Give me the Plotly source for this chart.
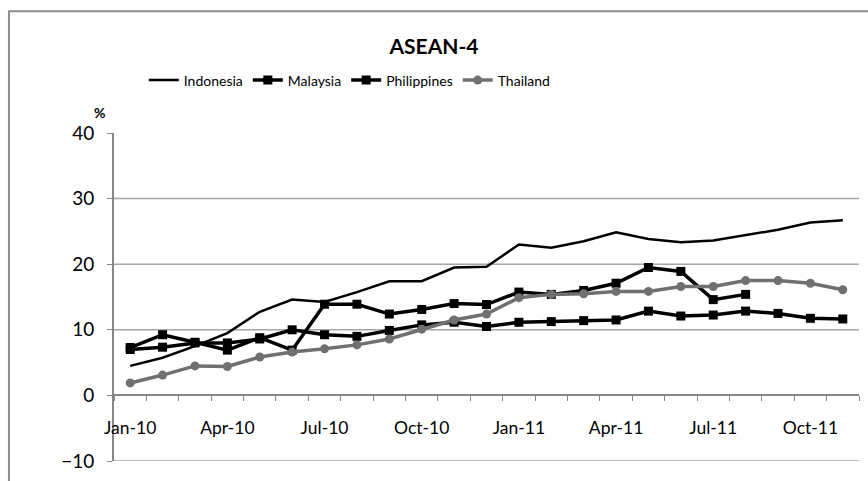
import plotly.graph_objects as go

# Monthly series, Jan-10 to Nov-11 (%)
months = ["Jan-10", "Feb-10", "Mar-10", "Apr-10", "May-10", "Jun-10", "Jul-10",
          "Aug-10", "Sep-10", "Oct-10", "Nov-10", "Dec-10", "Jan-11", "Feb-11",
          "Mar-11", "Apr-11", "May-11", "Jun-11", "Jul-11", "Aug-11", "Sep-11",
          "Oct-11", "Nov-11"]

indonesia = [4.5, 5.75, 7.5, 9.5, 12.75, 14.6, 14.25, 15.75, 17.4, 17.4, 19.5, 19.6,
             23.0, 22.5, 23.5, 24.85, 23.85, 23.35, 23.6, 24.4, 25.25, 26.35, 26.7]

malaysia = [7.0, 7.35, 8.0, 8.0, 8.6, 10.0, 9.25, 9.0, 9.9, 10.75, 11.15, 10.5,
            11.15, 11.25, 11.4, 11.5, 12.85, 12.1, 12.25, 12.85, 12.5, 11.75, 11.65]

philippines = [7.3, 9.25, 8.1, 6.9, 8.8, 6.9, 13.9, 13.9, 12.4, 13.1, 14.0, 13.85,
               15.75, 15.4, 16.0, 17.1, 19.5, 18.9, 14.6, 15.4, None, None, None]

thailand = [1.9, 3.1, 4.5, 4.4, 5.85, 6.6, 7.1, 7.7, 8.6, 10.1, 11.5, 12.4,
            14.9, 15.4, 15.5, 15.85, 15.85, 16.6, 16.6, 17.5, 17.5, 17.1, 16.1]

y_ticks = [-10, 0, 10, 20, 30, 40]
grid_levels = [-10, 10, 20, 30]

x = list(range(len(months)))
label_idx = list(range(0, len(months), 3))

FONT = "Lato, Carlito, Calibri, Arial, sans-serif"
AXIS_GREY = "#868686"
GRID_GREY = "#a6a6a6"

fig = go.Figure()
fig.add_trace(go.Scatter(x=x, y=indonesia, name="Indonesia", mode="lines",
                         line=dict(color="black", width=2.5)))
fig.add_trace(go.Scatter(x=x, y=malaysia, name="Malaysia", mode="lines+markers",
                         line=dict(color="black", width=3.5),
                         marker=dict(symbol="square", size=9, color="black")))
fig.add_trace(go.Scatter(x=x, y=philippines, name="Philippines", mode="lines+markers",
                         line=dict(color="black", width=3.5),
                         marker=dict(symbol="square", size=9, color="black")))
fig.add_trace(go.Scatter(x=x, y=thailand, name="Thailand", mode="lines+markers",
                         line=dict(color="#707070", width=3.5),
                         marker=dict(symbol="circle", size=9, color="#707070")))

shapes = []
for g in grid_levels:
    shapes.append(dict(type="line", xref="paper", x0=0, x1=1, yref="y", y0=g, y1=g,
                       line=dict(color=GRID_GREY, width=1.5), layer="below"))
# outer chart frame
shapes.append(dict(type="rect", xref="paper", yref="paper", x0=-0.141, x1=1.08,
                   y0=-0.1, y1=1.371, line=dict(color="#8c8c8c", width=2)))

fig.update_layout(
    width=868, height=481,
    margin=dict(l=114, r=9, t=133, b=14),
    paper_bgcolor="white", plot_bgcolor="white",
    font=dict(family=FONT, color="black"),
    title=dict(text="<b>ASEAN-4</b>", x=0.5, xref="container", xanchor="center",
               y=1 - 47 / 481, yref="container", yanchor="middle",
               font=dict(size=21, family=FONT)),
    legend=dict(orientation="h", x=0.04, xanchor="left", y=1.16, yanchor="middle",
                font=dict(size=14), itemwidth=30, tracegroupgap=0,
                bgcolor="rgba(0,0,0,0)"),
    shapes=shapes,
    xaxis=dict(
        range=[-0.5, len(months) - 0.5], tickmode="array",
        tickvals=label_idx, ticktext=[months[i] for i in label_idx],
        ticks="outside", ticklen=5, tickcolor="rgba(0,0,0,0)",
        showline=True, linecolor=AXIS_GREY, linewidth=2,
        anchor="free", position=0.2, showgrid=False, zeroline=False,
        tickfont=dict(size=17.5), ticklabelstandoff=12,
        minor=dict(tick0=-0.5, dtick=1, ticks="outside", ticklen=5,
                   tickcolor=AXIS_GREY, tickwidth=1, showgrid=False),
    ),
    yaxis=dict(
        range=[-10, 40], tickmode="array", tickvals=y_ticks,
        ticks="outside", ticklen=5, tickcolor=AXIS_GREY,
        showline=True, linecolor=AXIS_GREY, linewidth=2,
        showgrid=False, zeroline=False, tickfont=dict(size=19),
        ticklabelstandoff=9,
    ),
    annotations=[dict(text="<b>%</b>", xref="paper", yref="paper", x=-0.0094, y=1.063,
                      xanchor="right", yanchor="middle", showarrow=False,
                      font=dict(size=14))],
)

fig.write_html("out.html")
